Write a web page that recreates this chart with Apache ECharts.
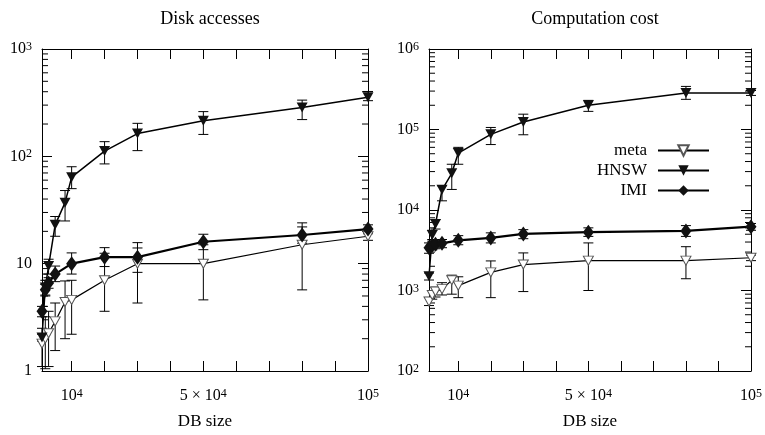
<!DOCTYPE html>
<html><head><meta charset="utf-8">
<script src="https://cdn.jsdelivr.net/npm/echarts@6/dist/echarts.min.js"></script>
<style>html,body{margin:0;padding:0;background:#fff}#c{width:765px;height:435px}</style>
</head><body><div id="c"></div>
<script>
// ---------- data ----------
const diskX      = [1000, 2000, 3000, 5000, 8000, 10000, 20000, 30000, 50000, 80000, 100000];
const diskMeta   = [1.8, 2.0, 2.25, 2.9, 4.4, 4.6, 7.0, 10, 10, 15, 18];
const diskMetaLo = [1.1, 1.05, 1.1, 1.55, 2.0, 2.2, 3.6, 4.3, 4.6, 5.7, 16.5];
const diskMetaHi = [2.5, 3.2, 3.6, 4.3, 6.9, 7.0, 12.5, 14, 15, 24, 19.5];
const diskHnsw   = [2.05, 6.0, 9.5, 23, 37, 64, 112, 163, 215, 285, 355];
const diskHnswLo = [1.9, 5.0, 8.0, 18, 25, 50, 85, 113, 160, 220, 330];
const diskHnswHi = [2.2, 7.0, 11, 27.5, 48, 80, 137, 203, 261, 334, 402];
const diskImiX   = [1000, 2000, 3000, 5000, 10000, 20000, 30000, 50000, 80000, 100000];
const diskImi    = [3.6, 5.7, 6.6, 8.0, 10, 11.5, 11.5, 16, 18.5, 21];
const diskImiLo  = [3.2, 5.1, 5.9, 6.8, 8.0, 9.4, 8.3, 13.5, 15.5, 19];
const diskImiHi  = [4.0, 6.4, 7.4, 9.5, 12.6, 14.1, 15.7, 18.8, 22, 23];

const compX      = [1000, 2000, 3000, 5000, 8000, 10000, 20000, 30000, 50000, 80000, 100000];
const compMeta   = [730, 880, 970, 1040, 1340, 1150, 1680, 2100, 2350, 2350, 2550];
const compMetaLo = [650, 780, 830, 880, 900, 815, 815, 970, 1000, 1400, 2350];
const compMetaHi = [820, 1000, 1100, 1250, 1550, 1480, 2330, 2930, 3900, 3500, 2750];
const compHnsw   = [1500, 4900, 6700, 17800, 28600, 51000, 87000, 124000, 200000, 285000, 285000];
const compHnswLo = [1350, 4300, 5800, 13000, 18000, 37000, 65000, 86000, 168000, 237000, 265000];
const compHnswHi = [1650, 5600, 7600, 20000, 37000, 60000, 106000, 155000, 230000, 343000, 305000];
const compImiX   = [1000, 2000, 3000, 5000, 10000, 20000, 30000, 50000, 80000, 100000];
const compImi    = [3400, 3650, 3750, 3850, 4200, 4500, 5050, 5300, 5500, 6200];
const compImiLo  = [2900, 3200, 3300, 3400, 3700, 3900, 4400, 4700, 4700, 5600];
const compImiHi  = [3900, 4100, 4200, 4300, 4800, 5200, 5700, 6000, 6400, 6800];

const xTickValues  = [10000, 20000, 30000, 40000, 50000, 60000, 70000, 80000, 90000, 100000];
const xLabelValues = [10000, 50000, 100000];
const xLabelTexts  = ['10^4', '5 × 10^4', '10^5'];
const diskMinor = [2,3,4,5,6,7,8,9,20,30,40,50,60,70,80,90,200,300,400,500,600,700,800,900];
const compMinor = [200,300,400,500,600,700,800,900,2000,3000,4000,5000,6000,7000,8000,9000,
                   20000,30000,40000,50000,60000,70000,80000,90000,200000,300000,400000,500000,600000,700000,800000,900000];
const seriesNames = ['meta', 'HNSW', 'IMI'];
const titles = ['Disk accesses', 'Computation cost'];
const xName = 'DB size';

// ---------- helpers ----------
const FONT = 'Liberation Serif';
const LABEL_SIZE = 16;
const rich = {
  b: {fontFamily: FONT, fontSize: LABEL_SIZE, color: '#000'},
  s: {fontFamily: FONT, fontSize: 12, color: '#000', verticalAlign: 'top'}
};
function supText(t) {
  const i = t.indexOf('^');
  if (i < 0) return '{b|' + t + '}';
  return '{b|' + t.slice(0, i) + '}{s|' + t.slice(i + 1) + '}';
}
function logLabel(v) {
  const e = Math.round(Math.log10(v));
  if (e === 0) return supText('1');
  if (e === 1) return supText('10');
  return supText('10^' + e);
}
const XMIN = 1000, XMAX = 100000;

function xAxes(grid) {
  const base = {
    type: 'value', gridIndex: grid, min: XMIN, max: XMAX,
    splitLine: {show: false},
    axisLine: {lineStyle: {color: '#000', width: 1}},
    axisTick: {inside: true, length: 10, customValues: xTickValues, lineStyle: {color: '#000'}}
  };
  return [
    Object.assign({}, base, {
      position: 'bottom',
      name: xName, nameLocation: 'middle', nameGap: 42,
      nameTextStyle: {fontFamily: FONT, fontSize: 17, color: '#000'},
      axisLabel: {customValues: xLabelValues, margin: 17, rich: rich,
        formatter: v => { const k = xLabelValues.indexOf(v); return k < 0 ? '' : supText(xLabelTexts[k]); }}
    }),
    Object.assign({}, base, {position: 'top', axisLabel: {show: false}})
  ];
}
function yAxes(grid, min, max) {
  const base = {
    type: 'log', logBase: 10, gridIndex: grid, min: min, max: max,
    splitLine: {show: false}, minorTick: {show: false},
    axisLine: {lineStyle: {color: '#000', width: 1}},
    axisTick: {inside: true, length: 10, lineStyle: {color: '#000'}}
  };
  return [
    Object.assign({}, base, {position: 'left', axisLabel: {margin: 10, rich: rich, formatter: logLabel}}),
    Object.assign({}, base, {position: 'right', axisLabel: {show: false}})
  ];
}
function errSeries(xi, yi, x, lo, hi) {
  return {
    type: 'custom', xAxisIndex: xi, yAxisIndex: yi, silent: true, z: 2,
    data: x.map((v, i) => [v, lo[i], hi[i]]),
    encode: {x: 0, y: [1, 2]},
    renderItem: (params, api) => {
      const a = api.coord([api.value(0), api.value(1)]);
      const b = api.coord([api.value(0), api.value(2)]);
      const w = 5, st = {stroke: '#000', lineWidth: 1};
      return {type: 'group', children: [
        {type: 'line', shape: {x1: a[0], y1: a[1], x2: b[0], y2: b[1]}, style: st},
        {type: 'line', shape: {x1: a[0] - w, y1: a[1], x2: a[0] + w, y2: a[1]}, style: st},
        {type: 'line', shape: {x1: b[0] - w, y1: b[1], x2: b[0] + w, y2: b[1]}, style: st}
      ]};
    }
  };
}
function minorTicks(xi, yi, vals) {
  return {
    type: 'custom', xAxisIndex: xi, yAxisIndex: yi, silent: true, z: 1,
    data: vals.map(v => [XMIN, v]),
    renderItem: (params, api) => {
      const cs = params.coordSys;
      const p = api.coord([XMIN, api.value(1)]);
      const st = {stroke: '#000', lineWidth: 1};
      return {type: 'group', children: [
        {type: 'line', shape: {x1: cs.x, y1: p[1], x2: cs.x + 6, y2: p[1]}, style: st},
        {type: 'line', shape: {x1: cs.x + cs.width - 6, y1: p[1], x2: cs.x + cs.width, y2: p[1]}, style: st}
      ]};
    }
  };
}
const TRI = 'path://M0,0L10,0L5,9Z';
function lineSeries(xi, yi, name, x, y) {
  const s = {
    type: 'line', name: name, xAxisIndex: xi, yAxisIndex: yi, z: 5,
    data: x.map((v, i) => [v, y[i]]),
    showAllSymbol: true
  };
  if (name === 'meta') {
    Object.assign(s, {symbol: TRI, symbolSize: [10, 9],
      itemStyle: {color: '#fff', borderColor: '#555', borderWidth: 1},
      lineStyle: {color: '#000', width: 1.2}});
  } else if (name === 'HNSW') {
    Object.assign(s, {symbol: TRI, symbolSize: [11, 10],
      itemStyle: {color: '#111'}, lineStyle: {color: '#000', width: 1.5}});
  } else {
    Object.assign(s, {symbol: 'diamond', symbolSize: [11, 15],
      itemStyle: {color: '#111'}, lineStyle: {color: '#000', width: 2.2}});
  }
  return s;
}

const option = {
  animation: false,
  backgroundColor: '#fff',
  title: [
    {text: titles[0], left: 205, top: 5, textAlign: 'center',
     textStyle: {fontFamily: FONT, fontSize: 18, fontWeight: 'normal', color: '#000'}},
    {text: titles[1], left: 590, top: 5, textAlign: 'center',
     textStyle: {fontFamily: FONT, fontSize: 18, fontWeight: 'normal', color: '#000'}}
  ],
  legend: {
    data: seriesNames, orient: 'vertical', align: 'right',
    right: 50, top: 137, itemWidth: 51, itemHeight: 13, itemGap: 3,
    textStyle: {fontFamily: FONT, fontSize: 17, color: '#000', padding: [0, 6, 0, 0]},
    selectedMode: false
  },
  grid: [
    {left: 42, top: 49, width: 326, height: 325},
    {left: 429, top: 49, width: 323, height: 324}
  ],
  xAxis: xAxes(0).concat(xAxes(1)),
  yAxis: yAxes(0, 1, 1000).concat(yAxes(1, 100, 1000000)),
  series: [
    minorTicks(0, 0, diskMinor),
    minorTicks(2, 2, compMinor),
    errSeries(0, 0, diskX, diskMetaLo, diskMetaHi),
    errSeries(0, 0, diskX, diskHnswLo, diskHnswHi),
    errSeries(0, 0, diskImiX, diskImiLo, diskImiHi),
    errSeries(2, 2, compX, compMetaLo, compMetaHi),
    errSeries(2, 2, compX, compHnswLo, compHnswHi),
    errSeries(2, 2, compImiX, compImiLo, compImiHi),
    lineSeries(0, 0, 'meta', diskX, diskMeta),
    lineSeries(0, 0, 'HNSW', diskX, diskHnsw),
    lineSeries(0, 0, 'IMI', diskImiX, diskImi),
    lineSeries(2, 2, 'meta', compX, compMeta),
    lineSeries(2, 2, 'HNSW', compX, compHnsw),
    lineSeries(2, 2, 'IMI', compImiX, compImi)
  ]
};
const chart = echarts.init(document.getElementById('c'), null, {renderer: 'canvas'});
chart.setOption(option);
</script>
</body></html>
